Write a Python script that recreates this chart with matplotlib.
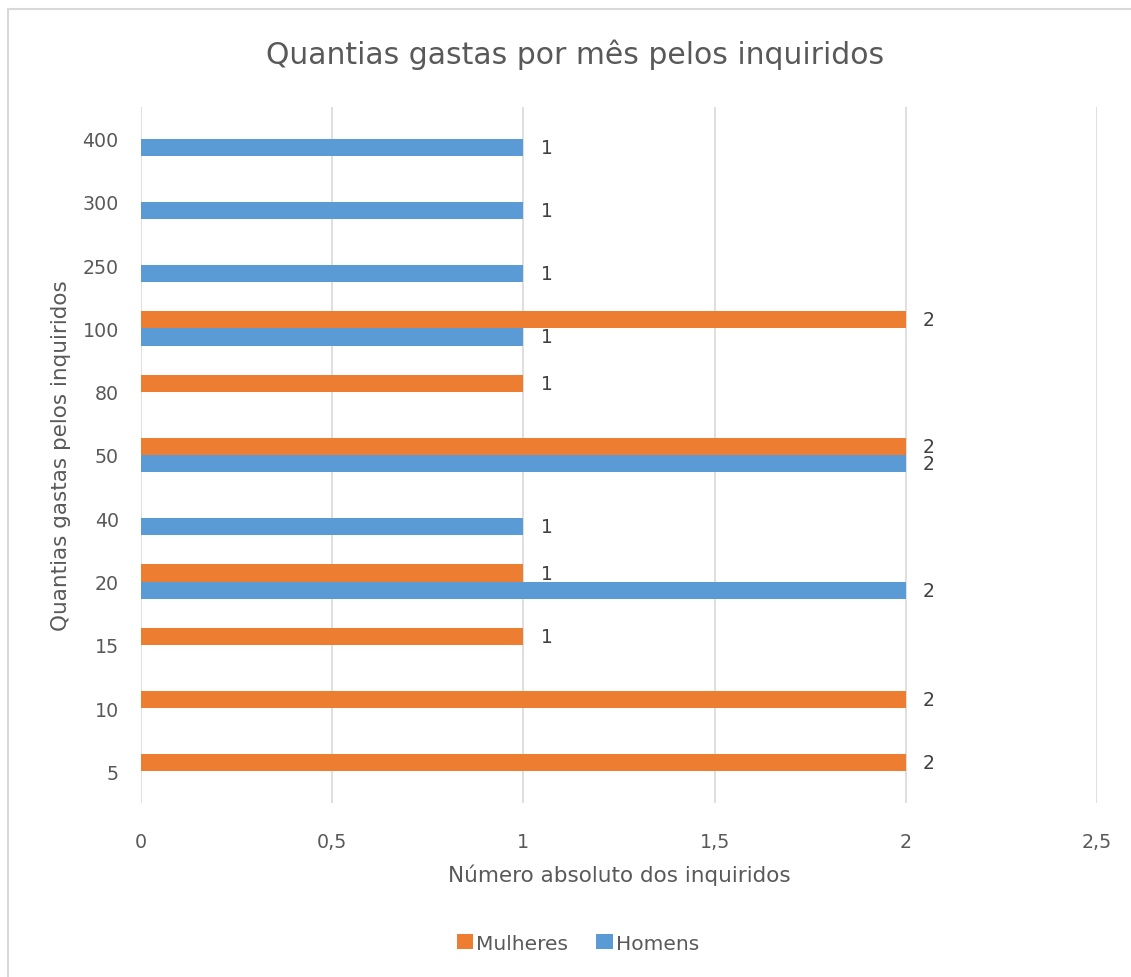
import matplotlib
matplotlib.use("Agg")
import matplotlib.pyplot as plt
from matplotlib.patches import Rectangle
from matplotlib.ticker import FuncFormatter
import numpy as np

categories = ["5", "10", "15", "20", "40", "50", "80", "100", "250", "300", "400"]
mulheres = [2, 2, 1, 1, 0, 2, 1, 2, 0, 0, 0]
homens = [0, 0, 0, 2, 1, 2, 0, 1, 1, 1, 1]
series_names = ["Mulheres", "Homens"]
x_ticks = [0, 0.5, 1, 1.5, 2, 2.5]

ORANGE = "#ED7D31"
BLUE = "#5B9BD5"
TXT = "#595959"
GRID = "#D9D9D9"

W, H = 1131, 978
fig = plt.figure(figsize=(W / 100, H / 100), dpi=100)
fig.patch.set_facecolor("white")
fig.patches.append(Rectangle((8 / W, -0.1), 1.2, 1.1 - 10 / H,
                             transform=fig.transFigure, fill=False,
                             edgecolor="#D9D9D9", linewidth=1.5))

ax = fig.add_axes([141 / W, 1 - 804 / H, (1097 - 141) / W, (804 - 108) / H])
y = np.arange(len(categories))
h = 0.27
m_vals = np.array(mulheres, dtype=float)
h_vals = np.array(homens, dtype=float)
bm = ax.barh(y + h / 2, np.where(m_vals > 0, m_vals, np.nan), height=h, color=ORANGE, label=series_names[0], zorder=3)
bh = ax.barh(y - h / 2, np.where(h_vals > 0, h_vals, np.nan), height=h, color=BLUE, label=series_names[1], zorder=3)

for yy, v in zip(y, m_vals):
    if v > 0:
        ax.text(v + 0.045, yy + h / 2, f"{int(v)}", va="center", ha="left", fontsize=13.5, color="#404040")
for yy, v in zip(y, h_vals):
    if v > 0:
        ax.text(v + 0.045, yy - h / 2, f"{int(v)}", va="center", ha="left", fontsize=13.5, color="#404040")

ax.set_xlim(0, 2.5)
ax.set_ylim(-0.5, len(categories) - 0.5)
ax.set_xticks(x_ticks)
ax.xaxis.set_major_formatter(FuncFormatter(lambda v, p: (f"{v:g}").replace(".", ",")))
ax.set_yticks(y)
ax.set_yticklabels(categories)
ax.tick_params(axis="both", length=0, labelsize=13.7, labelcolor=TXT)
ax.tick_params(axis="y", pad=16)
ax.tick_params(axis="x", pad=21)
ax.grid(axis="x", color=GRID, linewidth=1.2, zorder=0)
for s in ax.spines.values():
    s.set_visible(False)

ax.set_xlabel("Número absoluto dos inquiridos", fontsize=15.5, color=TXT, labelpad=9)
ax.set_ylabel("Quantias gastas pelos inquiridos", fontsize=15.5, color=TXT, labelpad=8)

fig.text(575 / W, 1 - 55 / H, "Quantias gastas por mês pelos inquiridos", ha="center", va="center",
         fontsize=21.5, color=TXT)

leg = fig.legend(handles=[bm, bh], labels=series_names, loc="center", bbox_to_anchor=(578 / W, 1 - 944 / H),
                 ncol=2, frameon=False, fontsize=14.5, handlelength=0.8, handleheight=0.8,
                 handletextpad=0.15, columnspacing=1.4)
for t in leg.get_texts():
    t.set_color(TXT)

fig.savefig("out.png", dpi=100, facecolor="white")
